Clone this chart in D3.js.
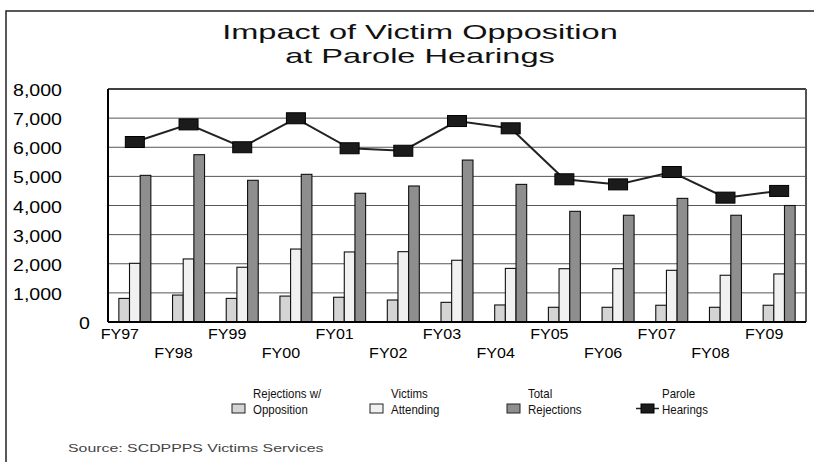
<!DOCTYPE html>
<html>
<head>
<meta charset="utf-8">
<script src="https://cdn.jsdelivr.net/npm/d3@7"></script>
<style>
  body { margin: 0; background: #fff; }
  svg { display: block; font-family: "Liberation Sans", Arial, sans-serif; }
</style>
</head>
<body>
<svg width="814" height="462"></svg>
<script>
const years = ["FY97", "FY98", "FY99", "FY00", "FY01", "FY02", "FY03", "FY04", "FY05", "FY06", "FY07", "FY08", "FY09"]
const rejOpposition = [810, 925, 810, 890, 850, 755, 675, 585, 505, 505, 575, 505, 575]
const victimsAttending = [2015, 2165, 1880, 2505, 2405, 2415, 2120, 1840, 1830, 1830, 1775, 1605, 1650]
const totalRejections = [5035, 5745, 4865, 5070, 4420, 4670, 5560, 4725, 3800, 3665, 4245, 3665, 4000]
const paroleHearings = [6180, 6785, 6000, 6995, 5965, 5880, 6900, 6650, 4900, 4725, 5150, 4270, 4500]
const yTicks = [0, 1000, 2000, 3000, 4000, 5000, 6000, 7000, 8000]

const barSeries = [
  { name: "Rejections w/ Opposition", values: rejOpposition, color: "#d4d4d4" },
  { name: "Victims Attending", values: victimsAttending, color: "#f1f1f1" },
  { name: "Total Rejections", values: totalRejections, color: "#8e8e8e" }
]

const svg = d3.select("svg")

// stretch text horizontally like the original export
function stretch(sel, k) {
  sel.each(function() {
    const w = this.getComputedTextLength()
    d3.select(this).attr("textLength", w * k).attr("lengthAdjust", "spacingAndGlyphs")
  })
}

// outer frame
svg.append("path")
  .attr("d", "M6,462 V11 H814")
  .attr("fill", "none")
  .attr("stroke", "#222")
  .attr("stroke-width", 1.5)

// title
const title = svg.append("g")
title.append("text").attr("x", 420).attr("y", 39).attr("text-anchor", "middle")
  .attr("font-size", 21).attr("fill", "#111").text("Impact of Victim Opposition")
title.append("text").attr("x", 420).attr("y", 63).attr("text-anchor", "middle")
  .attr("font-size", 21).attr("fill", "#111").text("at Parole Hearings")
stretch(title.selectAll("text"), 1.55)

const plotLeft = 108, plotRight = 806, plotTop = 89, plotBottom = 322

const x = d3.scaleBand()
  .domain(years)
  .range([plotLeft, plotRight])

const y = d3.scaleLinear()
  .domain([0, 8000])
  .range([plotBottom, plotTop])

const inner = d3.scaleBand()
  .domain(barSeries.map(d => d.name))
  .range([0, 32])

// gridlines
svg.append("g")
  .selectAll("line")
  .data(yTicks.filter(d => d > 0 && d < 8000))
  .enter()
  .append("line")
  .attr("x1", plotLeft).attr("x2", plotRight)
  .attr("y1", d => y(d)).attr("y2", d => y(d))
  .attr("stroke", "#555")
  .attr("stroke-width", 1)

// plot frame
svg.append("line").attr("x1", plotLeft).attr("x2", plotRight).attr("y1", plotTop).attr("y2", plotTop)
  .attr("stroke", "#000").attr("stroke-width", 1.5)
svg.append("line").attr("x1", plotRight).attr("x2", plotRight).attr("y1", plotTop).attr("y2", plotBottom)
  .attr("stroke", "#555").attr("stroke-width", 2)

// y labels
const yLabels = svg.append("g")
  .selectAll("text")
  .data(yTicks)
  .enter()
  .append("text")
  .attr("x", d => d === 0 ? 90 : 62)
  .attr("y", d => y(d) + 1)
  .attr("dy", "0.36em")
  .attr("text-anchor", "end")
  .attr("font-size", 17)
  .attr("fill", "#000")
  .text(d => d3.format(",")(d))
stretch(yLabels, 1.15)

// bars
const groups = svg.selectAll("g.year")
  .data(years)
  .enter()
  .append("g")
  .attr("class", "year")
  .attr("transform", d => `translate(${x(d) + x.bandwidth() / 2 - 16}, 0)`)

barSeries.forEach(s => {
  groups.append("rect")
    .attr("x", inner(s.name))
    .attr("width", inner.bandwidth())
    .attr("y", (d, i) => y(s.values[i]))
    .attr("height", (d, i) => plotBottom - y(s.values[i]))
    .attr("fill", s.color)
    .attr("stroke", "#111")
    .attr("stroke-width", 1.1)
})

// axis lines
svg.append("line").attr("x1", plotLeft).attr("x2", plotLeft).attr("y1", plotTop).attr("y2", plotBottom)
  .attr("stroke", "#000").attr("stroke-width", 2)
svg.append("line").attr("x1", plotLeft).attr("x2", plotRight).attr("y1", plotBottom).attr("y2", plotBottom)
  .attr("stroke", "#000").attr("stroke-width", 2)

// parole hearings line
const line = d3.line()
  .x((d, i) => x(years[i]) + x.bandwidth() / 2)
  .y(d => y(d))

svg.append("path")
  .datum(paroleHearings)
  .attr("d", line)
  .attr("fill", "none")
  .attr("stroke", "#222")
  .attr("stroke-width", 2)

svg.append("g")
  .selectAll("rect")
  .data(paroleHearings)
  .enter()
  .append("rect")
  .attr("x", (d, i) => x(years[i]) + x.bandwidth() / 2 - 9.5)
  .attr("y", d => y(d) - 5.5)
  .attr("width", 19)
  .attr("height", 11)
  .attr("fill", "#1b1b1b")
  .attr("stroke", "#000")
  .attr("stroke-width", 1)

// x labels, staggered on two rows
const xLabels = svg.append("g")
  .selectAll("text")
  .data(years)
  .enter()
  .append("text")
  .attr("x", d => x(d) + x.bandwidth() / 2 - 15)
  .attr("y", (d, i) => i % 2 === 0 ? 339 : 358)
  .attr("text-anchor", "middle")
  .attr("font-size", 15)
  .attr("fill", "#000")
  .text(d => d)
stretch(xLabels, 1.07)

// legend
const legendX = [232, 370, 507, 636]
const legendItems = [
  { lines: ["Rejections w/", "Opposition"], color: "#d4d4d4" },
  { lines: ["Victims", "Attending"], color: "#f1f1f1" },
  { lines: ["Total", "Rejections"], color: "#8e8e8e" },
  { lines: ["Parole", "Hearings"], color: null }
]

const legend = svg.selectAll("g.legend")
  .data(legendItems)
  .enter()
  .append("g")
  .attr("class", "legend")
  .attr("transform", (d, i) => `translate(${legendX[i]}, 0)`)

legend.filter(d => d.color)
  .append("rect")
  .attr("x", 0).attr("y", 404)
  .attr("width", 13).attr("height", 9)
  .attr("fill", d => d.color)
  .attr("stroke", "#222")
  .attr("stroke-width", 1)

const parole = legend.filter(d => !d.color)
parole.append("line")
  .attr("x1", 0).attr("x2", 23).attr("y1", 408.5).attr("y2", 408.5)
  .attr("stroke", "#222").attr("stroke-width", 1.5)
parole.append("rect")
  .attr("x", 5).attr("y", 404).attr("width", 13).attr("height", 9)
  .attr("fill", "#1b1b1b").attr("stroke", "#000")

const legendText = legend.append("text")
  .attr("x", d => d.color ? 21 : 26)
  .attr("font-size", 13.5)
  .attr("fill", "#111")
legendText.selectAll("tspan")
  .data(d => d.lines)
  .enter()
  .append("tspan")
  .attr("x", function() { return this.parentNode.getAttribute("x") })
  .attr("y", (d, i) => 398 + i * 16)
  .text(d => d)
legend.selectAll("tspan").each(function() {
  const w = this.getComputedTextLength()
  d3.select(this).attr("textLength", w * 0.85).attr("lengthAdjust", "spacingAndGlyphs")
})

// source note
const source = svg.append("text")
  .attr("x", 68).attr("y", 452)
  .attr("font-size", 11.5)
  .attr("fill", "#444")
  .text("Source:  SCDPPPS Victims Services")
stretch(source, 1.38)
</script>
</body>
</html>
